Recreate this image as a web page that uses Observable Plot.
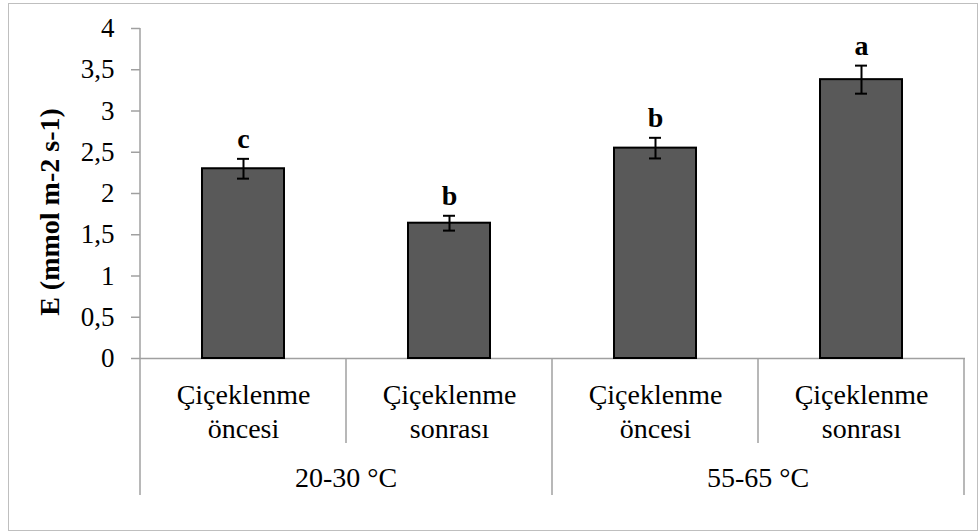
<!DOCTYPE html>
<html><head><meta charset="utf-8">
<script src="https://cdn.jsdelivr.net/npm/d3@7"></script>
<script src="https://cdn.jsdelivr.net/npm/@observablehq/plot@0.6"></script>
<style>
body{margin:0;background:#fff;}
#wrap{position:relative;width:979px;height:531px;overflow:hidden;}
#wrap svg{display:block;position:absolute;left:0;top:0;}
#wrap svg text, #wrap svg tspan{font-family:"Liberation Serif","Times New Roman","DejaVu Serif",serif !important;}
#border{position:absolute;left:8px;top:3px;width:968px;height:526px;border:1.5px solid #bfbfbf;pointer-events:none;}
</style></head><body><div id="wrap"><div id="border"></div></div>
<script>
const groups = ["20-30 °C", "20-30 °C", "55-65 °C", "55-65 °C"];
const stages = ["Çiçeklenme\nöncesi", "Çiçeklenme\nsonrası", "Çiçeklenme\nöncesi", "Çiçeklenme\nsonrası"];
const values = [2.30, 1.64, 2.55, 3.38];
const errors = [0.12, 0.09, 0.125, 0.17];
const letters = ["c", "b", "b", "a"];
const yTicks = [0, 0.5, 1, 1.5, 2, 2.5, 3, 3.5, 4];
const yLabel = "E (mmol m-2 s-1)";

const data = values.map((v, i) => ({
  id: i, stage: stages[i], group: groups[i], value: v,
  lo: v - errors[i], hi: v + errors[i], letter: letters[i]
}));

const AXIS = "#a0a0a0";
const FONT = "'Liberation Serif', 'Times New Roman', serif";

function categoryFrame(index, scales, values, dims) {
  const x = scales.x;
  const n = data.length;
  const bw = x.bandwidth ? x.bandwidth() : 0;
  const step = x.step ? x.step() : (x(1) - x(0));
  const top = dims.marginTop;
  const bottom = dims.height - dims.marginBottom;
  const left = i => x(i) - (step - bw) / 2;
  const g = d3.create("svg:g");
  // y axis line
  g.append("line").attr("x1", left(0)).attr("x2", left(0))
    .attr("y1", top).attr("y2", bottom).attr("stroke", AXIS).attr("stroke-width", 1.5);
  for (let i = 0; i <= n; i++) {
    const xb = i < n ? left(i) : left(n - 1) + step;
    const edge = i === 0 || i === n || groups[i] !== groups[i - 1];
    g.append("line").attr("x1", xb).attr("x2", xb)
      .attr("y1", bottom).attr("y2", bottom + (edge ? 137 : 85))
      .attr("stroke", AXIS).attr("stroke-width", 1.5);
  }
  [...new Set(groups)].forEach(name => {
    const ids = data.filter(d => d.group === name).map(d => d.id);
    const cx = (left(ids[0]) + left(ids[ids.length - 1]) + step) / 2;
    g.append("text").attr("x", cx).attr("y", bottom + 129)
      .attr("text-anchor", "middle").attr("font-size", 28).attr("fill", "black").text(name);
  });
  // y axis title
  g.append("text")
    .attr("transform", `translate(${left(0) - 81},${(top + bottom) / 2 + 19}) rotate(-90)`)
    .attr("text-anchor", "middle").attr("font-weight", "bold").attr("font-size", 28)
    .attr("fill", "black").text(yLabel);
  return g.node();
}

const chart = Plot.plot({
  width: 979,
  height: 531,
  marginLeft: 140,
  marginRight: 14,
  marginTop: 28,
  marginBottom: 173,
  style: {fontFamily: FONT, fontSize: "27px", background: "transparent"},
  x: {type: "band", domain: data.map(d => d.id), paddingInner: 0.6, paddingOuter: 0.3, axis: null},
  y: {domain: [0, 4], axis: null},
  marks: [
    Plot.ruleY([0], {stroke: AXIS, strokeWidth: 1.5}),
    Plot.axisY({
      ticks: yTicks,
      tickFormat: d => String(d).replace(".", ","),
      tickSize: 9, tickPadding: 17,
      stroke: AXIS, strokeWidth: 1.5, fill: "black",
      fontSize: 27, label: null
    }),
    Plot.barY(data, {x: "id", y: "value", fill: "#595959", stroke: "black", strokeWidth: 2}),
    Plot.ruleX(data, {x: "id", y1: "lo", y2: "hi", stroke: "black", strokeWidth: 2}),
    Plot.tickY(data, {x: "id", y: "lo", insetLeft: 35, insetRight: 35, stroke: "black", strokeWidth: 2}),
    Plot.tickY(data, {x: "id", y: "hi", insetLeft: 35, insetRight: 35, stroke: "black", strokeWidth: 2}),
    Plot.text(data, {x: "id", y: "hi", text: "letter", dy: -11, lineAnchor: "bottom",
      fontWeight: "bold", fontSize: 28, fill: "black"}),
    Plot.text(data, {x: "id", text: "stage", frameAnchor: "bottom", lineAnchor: "top",
      dy: 22, lineHeight: 1.2, fontSize: 28, fill: "black"}),
    categoryFrame
  ]
});
document.getElementById("wrap").prepend(chart);
</script>
</body></html>
